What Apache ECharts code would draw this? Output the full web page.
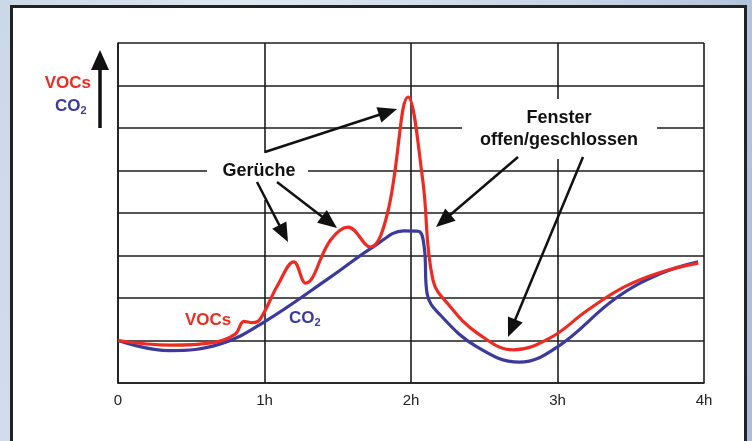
<!DOCTYPE html>
<html>
<head>
<meta charset="utf-8">
<script src="https://cdn.jsdelivr.net/npm/echarts@6/dist/echarts.min.js"></script>
<style>
    html, body { margin: 0; padding: 0; }
    body {
        width: 752px; height: 441px; overflow: hidden; position: relative;
        background: linear-gradient(100deg, #cbd8e8 0%, #dfe7f1 30%, #c6d4e6 70%, #a9bcd9 100%);
    }
    #panel {
        position: absolute; left: 10px; top: 5px; width: 731px; height: 460px;
        background: #fff; border: 3px solid #222;
    }
    #chart { position: absolute; left: 0; top: 0; width: 752px; height: 441px; }
</style>
</head>
<body>
<div id="panel"></div>
<div id="chart"></div>
<script>
// Zeit in Stunden, Werte in Rastereinheiten (0..8)
const xTicks = [0, 1, 2, 3, 4];
const tickLabels = ['0', '1h', '2h', '3h', '4h'];

const vocTime = [0, 0.36, 0.65, 0.80, 0.86, 0.92, 0.97, 1.09, 1.20, 1.28, 1.45, 1.57,
    1.72, 1.84, 1.98, 2.08, 2.15, 2.27, 2.45, 2.70, 2.95, 3.20, 3.45, 3.70, 3.96];
const vocValues = [1.0, 0.89, 0.95, 1.15, 1.45, 1.42, 1.5, 2.3, 2.85, 2.35, 3.36, 3.67,
    3.2, 4.0, 6.73, 4.78, 2.42, 1.79, 1.18, 0.78, 1.06, 1.7, 2.25, 2.6, 2.82];

const co2Time = [0, 0.35, 0.70, 1.00, 1.45, 1.75, 1.95, 2.05, 2.09, 2.11,
    2.20, 2.45, 2.74, 3.00, 3.40, 3.70, 3.96];
const co2Values = [1.0, 0.76, 0.92, 1.44, 2.49, 3.22, 3.58, 3.57, 3.2, 2.1,
    1.6, 0.85, 0.49, 0.85, 2.0, 2.57, 2.85];

const RED = '#ee2b22';
const BLUE = '#3b3b9c';
const FONT = '"Liberation Sans", Arial, sans-serif';

const chart = echarts.init(document.getElementById('chart'));

// Pfeil: Linie + Spitze
function arrow(x1, y1, x2, y2, w, head, half) {
    const dx = x2 - x1, dy = y2 - y1;
    const len = Math.sqrt(dx * dx + dy * dy);
    const ux = dx / len, uy = dy / len;
    const bx = x2 - ux * head, by = y2 - uy * head;
    return [
        {
            type: 'line', z: 120, silent: true,
            shape: { x1: x1, y1: y1, x2: bx + ux * 2, y2: by + uy * 2 },
            style: { stroke: '#111', lineWidth: w }
        },
        {
            type: 'polygon', z: 120, silent: true,
            shape: { points: [[x2, y2], [bx - uy * half, by + ux * half], [bx + uy * half, by - ux * half]] },
            style: { fill: '#111' }
        }
    ];
}

function label(x, y, text, color, align) {
    return {
        type: 'text', z: 120, silent: true, x: x, y: y,
        style: {
            text: text, fill: color, font: 'bold 17px ' + FONT,
            align: align || 'left', verticalAlign: 'middle'
        }
    };
}

function co2Label(x, y, align) {
    return {
        type: 'text', z: 120, silent: true, x: x, y: y,
        style: {
            text: '{m|CO}{s|2}', align: align || 'left', verticalAlign: 'middle',
            rich: {
                m: { fill: BLUE, font: 'bold 17px ' + FONT },
                s: { fill: BLUE, font: 'bold 11px ' + FONT, padding: [10, 0, 0, 0] }
            }
        }
    };
}

const graphics = [
    // weiße Flächen hinter den Beschriftungen
    { type: 'rect', z: 110, silent: true, shape: { x: 207, y: 153, width: 101, height: 47 }, style: { fill: '#fff' } },
    { type: 'rect', z: 110, silent: true, shape: { x: 462, y: 99, width: 195, height: 60 }, style: { fill: '#fff' } },
    {
        type: 'text', z: 120, silent: true, x: 259, y: 171,
        style: { text: 'Gerüche', font: 'bold 18px ' + FONT, fill: '#111', align: 'center', verticalAlign: 'middle' }
    },
    {
        type: 'text', z: 120, silent: true, x: 559, y: 129,
        style: {
            text: 'Fenster\noffen/geschlossen', font: 'bold 18px ' + FONT, fill: '#111',
            align: 'center', verticalAlign: 'middle', lineHeight: 22
        }
    },
    label(91, 83, 'VOCs', RED, 'right'),
    co2Label(55, 106),
    label(185, 320, 'VOCs', RED),
    co2Label(289, 318)
]
    .concat(arrow(100, 128, 100, 50, 3.5, 20, 9))
    .concat(arrow(265, 152, 397, 109, 2.5, 19, 8))
    .concat(arrow(257, 182, 288, 242, 2.5, 19, 8))
    .concat(arrow(277, 182, 337, 228, 2.5, 19, 8))
    .concat(arrow(518, 157, 436, 227, 2.5, 19, 8))
    .concat(arrow(583, 157, 508, 337, 2.5, 19, 8));

const gridLine = { color: '#1c1c1c', width: 1.6 };

const option = {
    animation: false,
    grid: { left: 118, top: 43, width: 586, height: 340 },
    xAxis: {
        type: 'value', min: xTicks[0], max: xTicks[xTicks.length - 1], interval: 1,
        axisLine: { lineStyle: gridLine },
        axisTick: { show: false },
        splitLine: { show: true, lineStyle: gridLine },
        axisLabel: {
            margin: 10, fontSize: 15, color: '#222', fontFamily: FONT,
            formatter: v => tickLabels[xTicks.indexOf(v)]
        }
    },
    yAxis: {
        type: 'value', min: 0, max: 8, interval: 1,
        axisLine: { show: true, lineStyle: gridLine },
        axisTick: { show: false },
        axisLabel: { show: false },
        splitLine: { show: true, lineStyle: gridLine }
    },
    series: [
        {
            name: 'CO2', type: 'line', z: 3, smooth: 0.4, showSymbol: false,
            lineStyle: { color: BLUE, width: 3.2 },
            data: co2Time.map((t, i) => [t, co2Values[i]])
        },
        {
            name: 'VOCs', type: 'line', z: 4, smooth: 0.4, showSymbol: false,
            lineStyle: { color: RED, width: 3.2 },
            data: vocTime.map((t, i) => [t, vocValues[i]])
        }
    ],
    graphic: graphics
};

chart.setOption(option);
</script>
</body>
</html>
